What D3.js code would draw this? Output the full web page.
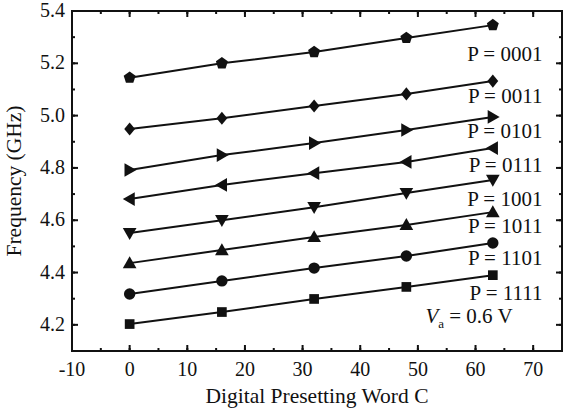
<!DOCTYPE html>
<html>
<head>
<meta charset="utf-8">
<script src="https://cdn.jsdelivr.net/npm/d3@7"></script>
<style>
  body { margin: 0; background: #fff; }
  text { font-family: "Liberation Serif", "Times New Roman", serif; fill: #111; }
</style>
</head>
<body>
<div id="chart"></div>
<script>
// data
let codes = ["0001", "0011", "0101", "0111", "1001", "1011", "1101", "1111"];
let words = [0, 16, 32, 48, 63];
let freq0001 = [5.145, 5.200, 5.243, 5.297, 5.346];
let freq0011 = [4.949, 4.990, 5.037, 5.083, 5.132];
let freq0101 = [4.792, 4.849, 4.895, 4.945, 4.995];
let freq0111 = [4.681, 4.735, 4.780, 4.823, 4.876];
let freq1001 = [4.551, 4.600, 4.650, 4.704, 4.754];
let freq1011 = [4.436, 4.486, 4.536, 4.582, 4.631];
let freq1101 = [4.318, 4.368, 4.417, 4.463, 4.513];
let freq1111 = [4.203, 4.249, 4.299, 4.345, 4.390];
let xTicks = [-10, 0, 10, 20, 30, 40, 50, 60, 70];
let yTicks = [4.2, 4.4, 4.6, 4.8, 5.0, 5.2, 5.4];
// label anchors (data units)
let labelY = [5.209, 5.048, 4.914, 4.784, 4.654, 4.551, 4.429, 4.295];

let series = [freq0001, freq0011, freq0101, freq0111, freq1001, freq1011, freq1101, freq1111];
let symbols = ["pentagon", "diamond", "triRight", "triLeft", "triDown", "triUp", "circle", "square"];

let width = 564, height = 415;
let margin = {top: 11, right: 2, bottom: 64, left: 72};

let svg = d3.select("#chart").append("svg")
    .attr("width", width)
    .attr("height", height);

let x = d3.scaleLinear().domain([-10, 75]).range([margin.left, width - margin.right]);
let y = d3.scaleLinear().domain([4.1, 5.4]).range([height - margin.bottom, margin.top]);

// frame
svg.append("rect")
    .attr("x", x(-10)).attr("y", y(5.4))
    .attr("width", x(75) - x(-10)).attr("height", y(4.1) - y(5.4))
    .attr("fill", "none").attr("stroke", "#111").attr("stroke-width", 2);

// ticks (inward, all four sides)
let xMinor = d3.range(-10, 76, 5);
let yMinor = d3.range(4.1, 5.41, 0.1);
function drawTicks(vals, len) {
    vals.forEach(function(v) {
        svg.append("line").attr("x1", x(v)).attr("x2", x(v))
            .attr("y1", y(4.1)).attr("y2", y(4.1) - len)
            .attr("stroke", "#111").attr("stroke-width", 2);
        svg.append("line").attr("x1", x(v)).attr("x2", x(v))
            .attr("y1", y(5.4)).attr("y2", y(5.4) + len)
            .attr("stroke", "#111").attr("stroke-width", 2);
    });
}
function drawYTicks(vals, len) {
    vals.forEach(function(v) {
        svg.append("line").attr("x1", x(-10)).attr("x2", x(-10) + len)
            .attr("y1", y(v)).attr("y2", y(v))
            .attr("stroke", "#111").attr("stroke-width", 2);
        svg.append("line").attr("x1", x(75)).attr("x2", x(75) - len)
            .attr("y1", y(v)).attr("y2", y(v))
            .attr("stroke", "#111").attr("stroke-width", 2);
    });
}
drawTicks(xMinor, 3);
drawTicks(xTicks, 6);
drawYTicks(yMinor, 3);
drawYTicks(yTicks, 6);

// tick labels
svg.selectAll(".xlab").data(xTicks).enter().append("text")
    .attr("x", d => x(d))
    .attr("y", y(4.1) + 25)
    .attr("text-anchor", "middle")
    .style("font-size", "20px")
    .text(d => d);

svg.selectAll(".ylab").data(yTicks).enter().append("text")
    .attr("x", x(-10) - 7)
    .attr("y", d => y(d) + 6)
    .attr("text-anchor", "end")
    .style("font-size", "20px")
    .text(d => d.toFixed(1));

// axis titles
svg.append("text")
    .attr("x", (x(-10) + x(75)) / 2)
    .attr("y", height - 12)
    .attr("text-anchor", "middle")
    .style("font-size", "21.5px")
    .text("Digital Presetting Word C");

svg.append("text")
    .attr("transform", `translate(21, ${(y(4.1) + y(5.4)) / 2}) rotate(-90)`)
    .attr("text-anchor", "middle")
    .style("font-size", "21.5px")
    .text("Frequency (GHz)");

// marker shapes
function markerPath(kind, s) {
    let r = s;
    if (kind === "circle") return d3.symbol(d3.symbolCircle, Math.PI * r * r)();
    if (kind === "square") return d3.symbol(d3.symbolSquare, (r * 1.7) * (r * 1.7))();
    if (kind === "diamond") {
        let a = r * 1.15, b = r * 0.95;
        return `M0,${-a}L${b},0L0,${a}L${-b},0Z`;
    }
    if (kind === "pentagon") {
        let pts = d3.range(5).map(i => {
            let t = -Math.PI / 2 + i * 2 * Math.PI / 5;
            return [r * 1.1 * Math.cos(t), r * 1.1 * Math.sin(t)];
        });
        return "M" + pts.join("L") + "Z";
    }
    let h = r * 1.2;
    if (kind === "triUp") return `M0,${-h}L${h},${h * 0.75}L${-h},${h * 0.75}Z`;
    if (kind === "triDown") return `M0,${h}L${h},${-h * 0.75}L${-h},${-h * 0.75}Z`;
    if (kind === "triRight") return `M${h},0L${-h * 0.75},${h}L${-h * 0.75},${-h}Z`;
    if (kind === "triLeft") return `M${-h},0L${h * 0.75},${h}L${h * 0.75},${-h}Z`;
}

let line = d3.line()
    .x((d, i) => x(words[i]))
    .y(d => y(d));

series.forEach(function(vals, k) {
    svg.append("path")
        .attr("d", line(vals))
        .attr("fill", "none")
        .attr("stroke", "#111")
        .attr("stroke-width", 2);

    svg.selectAll(".m" + k).data(vals).enter().append("path")
        .attr("d", markerPath(symbols[k], 5.7))
        .attr("transform", (d, i) => `translate(${x(words[i])},${y(d)})`)
        .attr("fill", "#111");

    svg.append("text")
        .attr("x", x(71.6))
        .attr("y", y(labelY[k]))
        .attr("text-anchor", "end")
        .style("font-size", "21px")
        .text("P = " + codes[k]);
});

// V_a annotation
let va = svg.append("text")
    .attr("x", x(51.3))
    .attr("y", y(4.207))
    .style("font-size", "21px");
va.append("tspan").style("font-style", "italic").text("V");
va.append("tspan").attr("dy", 5).style("font-size", "13px").text("a");
va.append("tspan").attr("dy", -5).text(" = 0.6 V");
</script>
</body>
</html>
